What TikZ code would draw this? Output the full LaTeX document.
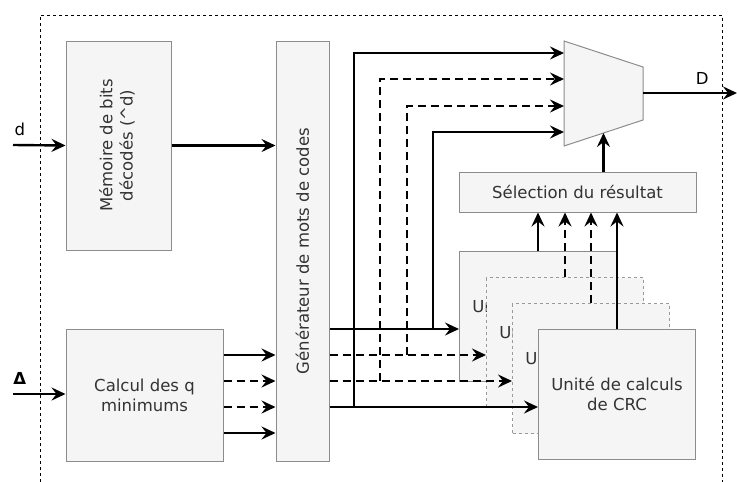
\documentclass[tikz,border=0pt]{standalone}
\usepackage{fontspec}
\setmainfont{DejaVu Sans}
\usepackage{graphicx}
\usetikzlibrary{arrows.meta}
\begin{document}
\begin{tikzpicture}[x=1pt,y=-1pt,
  blk/.style={draw=black!45,fill=black!4,line width=1pt,text=black!80,
    font=\fontsize{16.5}{20}\selectfont,align=center,inner sep=0pt},
  ghost/.style={blk,draw=black!40,dash pattern=on 3pt off 3pt},
  wire/.style={line width=2.4pt,-{Stealth[length=14pt,width=13pt,inset=5pt]}},
  dwire/.style={wire,dash pattern=on 8pt off 5pt}]
  \useasboundingbox (0,0) rectangle (737,482);
  \draw[line width=1pt,dash pattern=on 3pt off 3pt] (40,482) |- (722,15) -- (722,482);
  % blocs de gauche
  \node[blk,minimum width=105pt,minimum height=209pt] (mem) at (118.5,145.5)
    {\rotatebox{90}{\begin{tabular}{c}Mémoire de bits\\décodés (\textasciicircum d)\end{tabular}}};
  \node[blk,minimum width=53pt,minimum height=420pt] (gen) at (302.5,251)
    {\rotatebox{90}{Générateur de mots de codes}};
  \node[blk,minimum width=157pt,minimum height=132pt] (qmin) at (144.5,395)
    {Calcul des q\\minimums};
  % unites CRC empilees
  \foreach \i/\x/\y/\s in {1/459/251/blk,2/486/277/ghost,3/512/303/ghost,4/538/329/blk}
    \node[\s,anchor=north west,minimum width=157pt,minimum height=130pt] (crc\i) at (\x,\y)
      {Unité de calculs\\de CRC};
  \node[blk,minimum width=237pt,minimum height=40pt] (sel) at (577.5,192) {Sélection du résultat};
  % multiplexeur
  \draw[draw=black!45,fill=black!4,line width=1pt] (564,41) -- (643,67) -- (643,120) -- (564,146) -- cycle;
  \coordinate (mux out) at (643,93);
  \coordinate (mux sel) at (603.5,133);
  \foreach \i/\y in {1/132,2/106,3/79,4/53} \coordinate (mux in\i) at (564,\y);
  % entrees
  \coordinate (din) at (13,145);
  \coordinate (deltain) at (13,394);
  \draw[wire] (din) -- (mem.west) node[pos=.13,above=5pt,font=\fontsize{16.5}{20}\selectfont] (dlab) {d};
  \draw[wire] (deltain) -- (qmin.west |- deltain) node[pos=.13,above=5pt,font=\fontsize{16.5}{20}\bfseries] (deltalab) {Δ};
  \draw[wire] (mem.east) -- (mem.east -| gen.west);
  \foreach \y/\s in {355/wire,381/dwire,407/dwire,433/wire}
    \draw[\s] (qmin.east |- 0,\y) -- (gen.west |- 0,\y);
  % bus vers les unites et le multiplexeur
  \foreach \i/\y/\s/\bx in {1/329/wire/433,2/355/dwire/407,3/381/dwire/380,4/407/wire/354} {
    \draw[\s] (gen.east |- 0,\y) -- (crc\i.west |- 0,\y);
    \draw[\s] (\bx,\y) |- (mux in\i);
  }
  \foreach \i/\s in {1/wire,2/dwire,3/dwire,4/wire}
    \draw[\s] (crc\i.north) -- (crc\i.north |- sel.south);
  \draw[wire] (sel.north -| mux sel) -- (mux sel);
  \draw[wire] (mux out) -- (737,93) node[pos=.63,above=4pt,font=\fontsize{16.5}{20}\selectfont] (dout) {D};
\end{tikzpicture}
\end{document}
